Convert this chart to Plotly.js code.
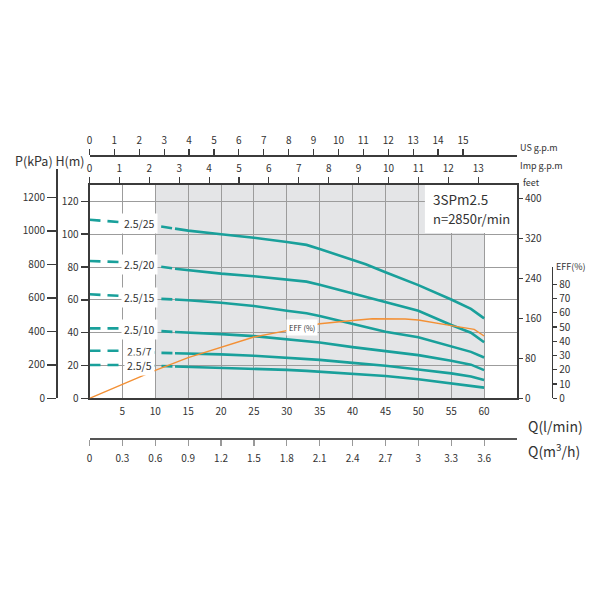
<!DOCTYPE html>
<html>
<head>
<meta charset="utf-8">
<script src="https://cdn.plot.ly/plotly-3.0.1.min.js"></script>
<style>
  html, body { margin: 0; padding: 0; background: #fff; }
  #chart { width: 600px; height: 600px; }
</style>
</head>
<body>
<div id="chart"></div>
<script>
// Flow rate sample points (l/min) shared by all head curves
const flowQ = [0, 5, 10, 13, 15, 20, 25, 30, 33, 35, 40, 42, 45, 50, 55, 58, 60];

// Head (m) of each 3SPm2.5 model at the flow points above
const head_2_5_25 = [108.8, 107.3, 105.2, 103.4, 102.2, 100.0, 97.9, 95.3, 93.5, 91.0, 84.6, 81.7, 76.8, 69.0, 60.2, 54.5, 48.7];
const head_2_5_20 = [83.7, 83.0, 80.7, 79.0, 78.1, 76.0, 74.4, 72.3, 71.1, 69.2, 64.0, 61.7, 58.4, 53.3, 44.7, 40.0, 34.2];
const head_2_5_15 = [63.4, 62.4, 60.8, 60.2, 59.8, 58.2, 56.3, 53.4, 51.8, 50.1, 45.3, 43.4, 40.6, 37.2, 31.4, 28.3, 24.9];
const head_2_5_10 = [42.6, 42.6, 41.2, 40.4, 39.9, 39.1, 37.9, 35.9, 34.9, 34.0, 31.2, 30.2, 28.6, 26.3, 22.9, 20.5, 17.2];
const head_2_5_7  = [29.0, 29.0, 27.8, 27.5, 27.4, 26.8, 25.9, 24.8, 24.0, 23.4, 21.6, 20.9, 19.8, 17.6, 15.2, 13.3, 11.1];
const head_2_5_5  = [20.3, 20.3, 19.8, 19.4, 19.2, 18.4, 17.8, 17.3, 16.7, 16.2, 15.0, 14.4, 13.6, 11.6, 9.1, 7.8, 6.5];

const modelNames = ['2.5/25', '2.5/20', '2.5/15', '2.5/10', '2.5/7', '2.5/5'];
const modelHeads = [head_2_5_25, head_2_5_20, head_2_5_15, head_2_5_10, head_2_5_7, head_2_5_5];

// Efficiency curve (%)
const effQ   = [0, 5, 10, 15, 20, 25, 30, 35, 40, 43, 48, 50, 55, 58.5, 60];
const effPct = [0, 9.9, 19.6, 28.6, 36.0, 43.0, 47.5, 52.3, 54.6, 55.8, 55.6, 54.9, 51.0, 48.4, 43.7];

// Tick values for the scales
const qTicks    = [5, 10, 15, 20, 25, 30, 35, 40, 45, 50, 55, 60];
const m3hTicks  = [0, 0.3, 0.6, 0.9, 1.2, 1.5, 1.8, 2.1, 2.4, 2.7, 3, 3.3, 3.6];
const m3hLabels = ['0', '0.3', '0.6', '0.9', '1.2', '1.5', '1.8', '2.1', '2.4', '2.7', '3', '3.3', '3.6'];
const usTicks   = [0, 1, 2, 3, 4, 5, 6, 7, 8, 9, 10, 11, 12, 13, 14, 15];
const impTicks  = [0, 1, 2, 3, 4, 5, 6, 7, 8, 9, 10, 11, 12, 13];
const hTicks    = [0, 20, 40, 60, 80, 100, 120];
const kpaTicks  = [0, 200, 400, 600, 800, 1000, 1200];
const feetTicks = [0, 80, 160, 240, 320, 400];
const effTicks  = [0, 10, 20, 30, 40, 50, 60, 70, 80];

// Unit conversions
const L_PER_US_GAL = 3.78541, L_PER_IMP_GAL = 4.54609, M_PER_FT = 0.3048, KPA_PER_M = 9.80665;

// Page geometry (pixels) -> paper fractions
const ML = 57, MR = 40, MT = 155, MB = 162;
const PW = 600 - ML - MR, PH = 600 - MT - MB;
const px = x => (x - ML) / PW;
const py = y => (600 - MB - y) / PH;

const Q_MAX = 65, H_MAX = 130;
const plotLeft = 89.5, plotRight = 517, plotBottom = 398.3, plotTop = 185;
const mPerPx = H_MAX / (plotBottom - plotTop);
const kpaTop = 169, effTop = 266.7, effPxPerPct = 1.425;

const TEAL = '#19a09b', ORANGE = '#f39035', FRAME = '#3b3b3b', GRID = '#9c9c9c', TXT = '#333';
const FONT = 'Noto Sans CJK SC, Noto Sans, sans-serif';
const tickFont = { family: FONT, size: 10, color: TXT };

const xDom = [px(plotLeft), px(plotRight)];
const yDom = [py(plotBottom), py(plotTop)];

const traces = [];
// empty traces so that every unit scale gets its own subplot and is drawn
[['x2', 'y'], ['x3', 'y'], ['x4', 'y'], ['x', 'y2'], ['x5', 'y4']].forEach(([xa, ya]) => {
  traces.push({ x: [], y: [], xaxis: xa, yaxis: ya, type: 'scatter', mode: 'lines', hoverinfo: 'skip' });
});
modelHeads.forEach((h, i) => {
  // dashed low-flow section
  traces.push({
    x: flowQ.slice(0, 4), y: h.slice(0, 4), type: 'scatter', mode: 'lines',
    line: { color: TEAL, width: 2.6, dash: '11px,7px' }, hoverinfo: 'skip'
  });
  // operating range
  traces.push({
    x: flowQ.slice(3), y: h.slice(3), type: 'scatter', mode: 'lines',
    line: { color: TEAL, width: 2.6 }, hoverinfo: 'skip'
  });
});
traces.push({
  x: effQ, y: effPct, xaxis: 'x5', yaxis: 'y3', type: 'scatter', mode: 'lines',
  line: { color: ORANGE, width: 1.4 }, hoverinfo: 'skip'
});

const annotations = [];
const paperText = (text, x, y, size, anchor) => ({
  text, xref: 'paper', yref: 'paper', x: px(x), y: py(y),
  xanchor: anchor || 'left', yanchor: 'middle', showarrow: false,
  font: { family: FONT, size, color: TXT }
});
annotations.push(paperText('P(kPa) H(m)', 13, 160, 12.5));
annotations.push(paperText('US g.p.m', 518, 147, 9));
annotations.push(paperText('Imp g.p.m', 518, 165, 9));
annotations.push(paperText('feet', 521, 182, 9));
annotations.push(paperText('EFF(%)', 554, 266, 9));
annotations.push(paperText('Q(l/min)', 526, 426, 14));
annotations.push(paperText('Q(m<sup>3</sup>/h)', 526, 450, 14));
annotations.push(paperText('3SPm2.5', 431, 199, 13.5));
annotations.push(paperText('n=2850r/min', 431, 218, 13));

// model labels sit over the dashed part, between 5 and 10 l/min
modelNames.forEach((name, i) => {
  const h = modelHeads[i];
  annotations.push({
    text: name, x: 7.6, y: (h[1] + h[2]) / 2, xref: 'x', yref: 'y',
    showarrow: false, bgcolor: '#ffffff', borderpad: 2,
    font: { family: FONT, size: 10.5, color: TXT }
  });
});
annotations.push({
  text: 'EFF (%)', x: 32.3, y: 50, xref: 'x5', yref: 'y3', showarrow: false,
  bgcolor: '#ffffff', borderpad: 2, font: { family: FONT, size: 7.5, color: TXT }
});

const axisBase = { zeroline: false, showgrid: false, fixedrange: true, tickfont: tickFont, showline: true, linecolor: FRAME };

const layout = {
  width: 600, height: 600,
  margin: { l: ML, r: MR, t: MT, b: MB },
  paper_bgcolor: '#ffffff', plot_bgcolor: 'rgba(0,0,0,0)',
  showlegend: false, hovermode: false,
  xaxis: Object.assign({}, axisBase, {
    domain: xDom, range: [0, Q_MAX], anchor: 'y', side: 'bottom', linewidth: 2,
    ticks: '', tickmode: 'array', tickvals: qTicks, showgrid: true, gridcolor: GRID, gridwidth: 1,
    ticklabelstandoff: 3
  }),
  yaxis: Object.assign({}, axisBase, {
    domain: yDom, range: [0, H_MAX], anchor: 'x', side: 'left', linewidth: 2,
    ticks: 'outside', ticklen: 7, tickwidth: 1.5, tickcolor: FRAME, tickmode: 'array', tickvals: hTicks,
    showgrid: true, gridcolor: GRID, gridwidth: 1
  }),
  xaxis2: Object.assign({}, axisBase, {
    overlaying: 'x', range: [0, Q_MAX / L_PER_US_GAL], anchor: 'free', position: 1, side: 'top', linewidth: 1.5,
    ticks: 'outside', ticklen: 6, tickwidth: 1.2, tickcolor: FRAME, tickmode: 'array', tickvals: usTicks,
    ticklabelstandoff: 1
  }),
  xaxis3: Object.assign({}, axisBase, {
    overlaying: 'x', range: [0, Q_MAX * 0.06], anchor: 'free', position: 0, side: 'bottom', linewidth: 1.5,
    linecolor: '#555', ticks: 'outside', ticklen: 6, tickwidth: 1.2, tickcolor: '#999',
    tickmode: 'array', tickvals: m3hTicks, ticktext: m3hLabels, ticklabelstandoff: 4
  }),
  xaxis4: Object.assign({}, axisBase, {
    overlaying: 'x', range: [0, Q_MAX / L_PER_IMP_GAL], anchor: 'y', side: 'top', linewidth: 2,
    ticks: 'outside', ticklen: 6, tickwidth: 1.2, tickcolor: FRAME, tickmode: 'array', tickvals: impTicks,
    ticklabelstandoff: 1
  }),
  xaxis5: { domain: xDom, range: [0, Q_MAX], anchor: 'y3', visible: false, fixedrange: true, showgrid: false, zeroline: false },
  yaxis2: Object.assign({}, axisBase, {
    overlaying: 'y', range: [0, H_MAX / M_PER_FT], anchor: 'x', side: 'right', linewidth: 2,
    ticks: 'outside', ticklen: 4, tickwidth: 1.2, tickcolor: FRAME, tickmode: 'array', tickvals: feetTicks
  }),
  yaxis3: Object.assign({}, axisBase, {
    domain: [py(plotBottom), py(effTop)], range: [0, (plotBottom - effTop) / effPxPerPct],
    anchor: 'free', position: px(551.7), side: 'right', linewidth: 1.5,
    ticks: 'outside', ticklen: 4, tickwidth: 1.2, tickcolor: FRAME, tickmode: 'array', tickvals: effTicks
  }),
  yaxis4: Object.assign({}, axisBase, {
    domain: [py(plotBottom), py(kpaTop)], range: [0, (plotBottom - kpaTop) * mPerPx * KPA_PER_M],
    anchor: 'free', position: 0, side: 'left', linewidth: 2,
    ticks: 'outside', ticklen: 9, tickwidth: 1.5, tickcolor: FRAME, tickmode: 'array', tickvals: kpaTicks
  }),
  shapes: [
    { type: 'rect', xref: 'x', yref: 'y', x0: 10, x1: 60, y0: 0, y1: H_MAX,
      fillcolor: '#e4e5e7', line: { width: 0 }, layer: 'below' },
    { type: 'rect', xref: 'x', yref: 'y', x0: 51, x1: Q_MAX, y0: 100.7, y1: H_MAX,
      fillcolor: '#ffffff', line: { width: 0 }, layer: 'between' }
  ],
  annotations
};

Plotly.newPlot('chart', traces, layout, { staticPlot: true, displayModeBar: false });
</script>
</body>
</html>
